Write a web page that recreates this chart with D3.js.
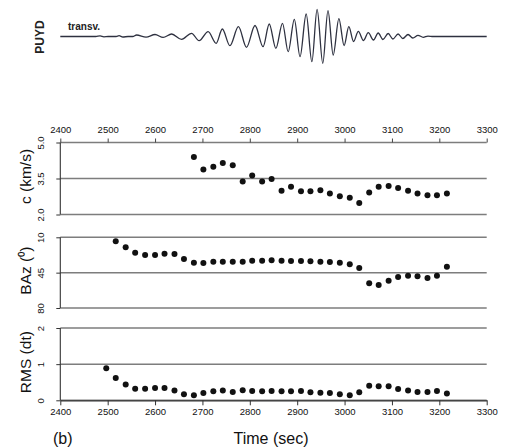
<!DOCTYPE html>
<html>
<head>
<meta charset="utf-8">
<script src="https://cdn.jsdelivr.net/npm/d3@7/dist/d3.min.js"></script>
<style>
  html, body { margin: 0; padding: 0; background: #fff; }
  svg { display: block; font-family: "Liberation Sans", Arial, Helvetica, sans-serif; }
</style>
</head>
<body>
<svg id="chart" width="505" height="448"></svg>
<script>
// ---------- data ----------
const xTicks = [2400, 2500, 2600, 2700, 2800, 2900, 3000, 3100, 3200, 3300];

const times = [2497, 2517, 2538, 2558, 2579, 2600, 2620, 2641, 2661, 2682, 2702, 2723,
  2743, 2764, 2785, 2805, 2826, 2846, 2867, 2887, 2908, 2928, 2949, 2969, 2990, 3011,
  3031, 3052, 3072, 3093, 3113, 3134, 3154, 3175, 3195, 3216];

const cValues = [null, null, null, null, null, null, null, null, null,
  4.40, 3.88, 3.99, 4.15, 4.05, 3.38, 3.62, 3.38, 3.48, 2.99, 3.16, 2.97, 2.97, 3.01,
  2.88, 2.76, 2.70, 2.48, 2.92, 3.16, 3.19, 3.10, 2.99, 2.88, 2.80, 2.80, 2.88];

const bazValues = [null,
  14.0, 19.9, 25.2, 27.5, 27.5, 26.2, 26.5, 31.5, 35.1, 35.4, 34.1, 34.1, 34.1, 34.1,
  33.1, 33.1, 32.8, 33.1, 33.5, 33.5, 33.8, 34.1, 34.5, 35.1, 36.8, 40.4, 55.6, 57.2,
  52.9, 49.3, 48.0, 48.6, 50.3, 48.0, 39.1];

const rmsValues = [0.89, 0.62, 0.44, 0.32, 0.32, 0.34, 0.34, 0.27, 0.17, 0.14, 0.20,
  0.25, 0.27, 0.23, 0.28, 0.26, 0.25, 0.26, 0.25, 0.25, 0.26, 0.22, 0.21, 0.20, 0.17,
  0.14, 0.22, 0.40, 0.39, 0.39, 0.31, 0.27, 0.23, 0.23, 0.26, 0.19, 0.17];

const cTicks = [5.0, 3.5, 2.0];
const bazTicks = [10, 45, 80];
const rmsTicks = [2, 1, 0];

// transverse seismogram, read as successive extrema (time in s, amplitude)
const waveTime = [2400, 2475, 2484, 2492, 2501, 2518, 2524, 2532, 2543, 2553, 2561, 2581,
  2600, 2617, 2635, 2656, 2677, 2693, 2712, 2729, 2742, 2758, 2776, 2793, 2811, 2828,
  2841, 2855, 2869, 2881, 2894, 2906, 2919, 2931, 2942, 2954, 2965, 2976, 2988, 2999,
  3009, 3019, 3029, 3040, 3050, 3061, 3071, 3081, 3092, 3102, 3113, 3123, 3134, 3144,
  3155, 3166, 3176, 3187, 3300];
const waveAmp = [0, 0, 0.6, -0.3, 0, 0, 0.8, -0.5, 0, 0, 1.5, -0.6,
  2.0, -0.9, 2.5, -2.8, 3.2, -4.2, 4.9, -6.8, 7.5, -9.2, 9.8, -10.8, 11.0, -10.2,
  12.5, -11.8, 13.2, -15.2, 17.2, -20.2, 22.5, -25.2, 27.2, -26.8, 25.8, -18.5, 17.8, -9.0,
  9.8, -5.0, 5.2, -4.0, 3.8, -3.5, 3.5, -3.0, 3.0, -2.5, 2.5, -2.0, 2.0, -1.5,
  1.2, -0.8, 0.4, 0, 0];

// ---------- drawing ----------
const svg = d3.select("#chart");
const X0 = 60.3, X1 = 486.7;
const x = d3.scaleLinear().domain([2400, 3300]).range([X0, X1]);

// waveform
const yw = d3.scaleLinear().domain([-30, 30]).range([66.5, 6.5]);
const wave = waveTime.map((t, i) => [t, waveAmp[i]]);
svg.append("path")
  .datum(wave)
  .attr("fill", "none")
  .attr("stroke", "#2e3140")
  .attr("stroke-width", 1.3)
  .attr("d", d3.line().x(d => x(d[0])).y(d => yw(d[1])).curve(d3.curveMonotoneX));

svg.append("text").attr("x", 68).attr("y", 30)
  .attr("font-size", 10).attr("font-weight", "bold").attr("fill", "#222").text("transv.");
svg.append("text").attr("transform", "translate(43.5,37) rotate(-90)")
  .attr("text-anchor", "middle").attr("font-size", 12).attr("font-weight", "bold")
  .attr("fill", "#222").text("PUYD");

const panels = [
  { title: "c (km/s)", domain: [2.0, 5.0], ticks: cTicks, fmt: d3.format(".1f"),
    top: 142.5, bottom: 214.5, values: cValues },
  { title: "BAz (\u2070)", domain: [80, 10], ticks: bazTicks, fmt: d3.format("d"),
    top: 237.3, bottom: 308, values: bazValues },
  { title: "RMS (dt)", domain: [0, 2], ticks: rmsTicks, fmt: d3.format("d"),
    top: 328, bottom: 400.3, values: rmsValues }
];

panels.forEach(p => {
  const y = d3.scaleLinear().domain(p.domain).range([p.bottom, p.top]);
  const g = svg.append("g");
  // horizontal reference lines
  g.selectAll("line.grid").data(p.ticks).enter().append("line")
    .attr("x1", X0).attr("x2", X1)
    .attr("y1", d => y(d)).attr("y2", d => y(d))
    .attr("stroke", "#7d7d7d").attr("stroke-width", 1.5);
  // left axis
  const ax = g.append("g").attr("transform", `translate(${X0},0)`)
    .call(d3.axisLeft(y).tickValues(p.ticks).tickSize(4).tickFormat(p.fmt));
  ax.select(".domain").attr("stroke", "#333").attr("stroke-width", 1.1)
    .attr("d", `M0,${p.top}V${p.bottom}`);
  ax.selectAll(".tick line").attr("stroke", "#333");
  ax.selectAll(".tick text")
    .attr("x", null).attr("dy", null)
    .attr("transform", "translate(-16.5,0) rotate(-90)")
    .attr("text-anchor", "middle")
    .attr("font-size", 9.5).attr("fill", "#111")
    .attr("font-family", "Liberation Sans, Arial, sans-serif");
  // title
  svg.append("text")
    .attr("transform", `translate(31,${(p.top + p.bottom) / 2 - 2}) rotate(-90)`)
    .attr("text-anchor", "middle").attr("font-size", 15.5).attr("fill", "#111")
    .text(p.title);
  // points
  const pts = times.map((t, i) => [t, p.values[i]]).filter(d => d[1] !== null);
  g.selectAll("circle").data(pts).enter().append("circle")
    .attr("cx", d => x(d[0])).attr("cy", d => y(d[1])).attr("r", 3)
    .attr("fill", "#111");
});

// top time axis
const topAx = svg.append("g").attr("transform", "translate(0,142.5)")
  .call(d3.axisTop(x).tickValues(xTicks).tickSize(4).tickSizeOuter(0).tickFormat(d3.format("d")));
topAx.select(".domain").remove();
topAx.selectAll(".tick line").attr("stroke", "#444");
topAx.selectAll(".tick text").attr("font-size", 9.5).attr("fill", "#111")
  .attr("y", -10).attr("font-family", "Liberation Sans, Arial, sans-serif");

// bottom time axis
const botAx = svg.append("g").attr("transform", "translate(0,400.3)")
  .call(d3.axisBottom(x).tickValues(xTicks).tickSize(5).tickSizeOuter(0).tickFormat(d3.format("d")));
botAx.select(".domain").attr("stroke", "#333").attr("stroke-width", 1.2);
botAx.selectAll(".tick line").attr("stroke", "#333");
botAx.selectAll(".tick text").attr("font-size", 9.5).attr("fill", "#111")
  .attr("y", 8).attr("font-family", "Liberation Sans, Arial, sans-serif");

svg.append("text").attr("x", 271).attr("y", 444).attr("text-anchor", "middle")
  .attr("font-size", 16).attr("fill", "#111").text("Time (sec)");
svg.append("text").attr("x", 53).attr("y", 444)
  .attr("font-size", 16).attr("fill", "#111").text("(b)");
</script>
</body>
</html>
